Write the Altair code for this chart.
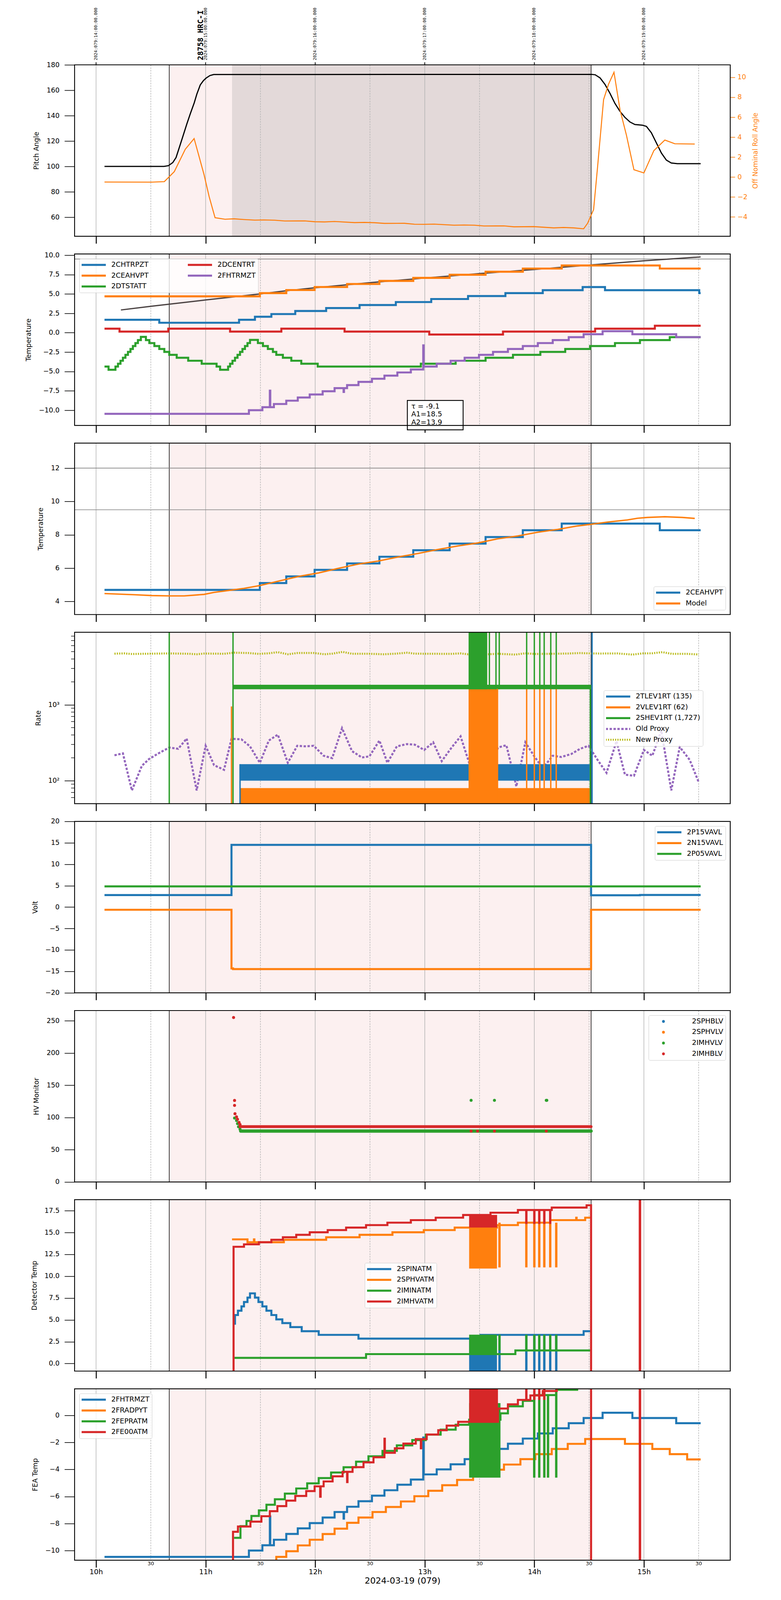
import altair as alt
import pandas as pd

# Layout measured in reference pixels; horizontal sizes use SX, vertical sizes SY, fonts SF.
SX, SY, SF = 1.0, 0.655, 2.0 / 3.0

# ---------------- common style ----------------
FONT = "DejaVu Sans"
MONO = "DejaVu Sans Mono"
BLUE, ORANGE, GREEN, RED, PURPLE, OLIVE = "#1f77b4", "#ff7f0e", "#2ca02c", "#d62728", "#9467bd", "#bcbd22"
PINK, DWELL, GRID, REFLINE, FITCOL = "#fcf0f0", "#e3d9d9", "#b4b4b4", "#808080", "#4a4242"
W, H = 1679 * SX, 670 * SY
LW = 5.2  # main line width

# ---------------- time axis (decimal hours, local) ----------------
X_DOMAIN = [9.804, 15.788]
HOURS = [10, 11, 12, 13, 14, 15]
HALF_HOURS = [10.5, 11.5, 12.5, 13.5, 14.5, 15.5]
HALF_LABEL = "30"
TOP_LABELS = ["2024:079:14:00:00.000", "2024:079:15:00:00.000", "2024:079:16:00:00.000",
              "2024:079:17:00:00.000", "2024:079:18:00:00.000", "2024:079:19:00:00.000"]
OBS_NAME, OBS_NAME_T = "28758 HRC-I", 10.955
OBS_START, OBS_END, DWELL_START = 10.668, 14.518, 11.241
X_TITLE = "2024-03-19 (079)"

# ---------------- panel 1: pitch / roll ----------------
PITCH_T = [10.077, 10.62, 10.66, 10.70, 10.73, 10.753, 10.79, 10.828, 10.86, 10.896, 10.92, 10.951, 10.98, 11.005,
           11.04, 11.074, 14.52, 14.555, 14.6, 14.645, 14.69, 14.736, 14.78, 14.827, 14.873, 14.918, 14.986, 15.023,
           15.068, 15.114, 15.16, 15.205, 15.25, 15.305, 15.518]
PITCH_V = [100.0, 100.0, 100.6, 103.0, 107.0, 113.1, 123.0, 133.3, 141.5, 150.1, 157.0, 164.2, 167.6, 169.6,
           171.6, 172.4, 172.5, 172.2, 169.7, 164.6, 157.6, 149.6, 143.6, 138.6, 135.0, 133.0, 132.5, 131.5,
           126.5, 118.5, 110.5, 105.0, 102.7, 102.2, 102.2]
ROLL_T = [10.077, 10.509, 10.623, 10.714, 10.814, 10.895, 10.986, 11.032, 11.086, 11.177, 11.259, 11.35, 11.45,
          11.532, 11.632, 11.723, 11.905, 11.995, 12.086, 12.177, 12.359, 12.45, 12.541, 12.632, 12.814, 12.905,
          12.995, 13.086, 13.268, 13.359, 13.45, 13.541, 13.723, 13.814, 13.995, 14.177, 14.268, 14.359, 14.45,
          14.486, 14.541, 14.577, 14.632, 14.677, 14.727, 14.782, 14.841, 14.909, 15.0, 15.091, 15.191, 15.282, 15.464]
ROLL_V = [-0.50, -0.51, -0.46, 0.54, 2.78, 3.86, 0.22, -1.96, -4.08, -4.23, -4.19, -4.26, -4.32, -4.30, -4.33,
          -4.41, -4.40, -4.48, -4.50, -4.46, -4.57, -4.55, -4.58, -4.65, -4.64, -4.73, -4.74, -4.72, -4.83, -4.81,
          -4.83, -4.91, -4.90, -4.99, -4.97, -5.10, -5.06, -5.10, -5.19, -4.64, -3.26, 0.98, 7.76, 9.30, 10.51,
          6.74, 4.18, 0.73, 0.41, 2.65, 3.71, 3.34, 3.31]

# ---------------- panel 2: temperatures ----------------
CHT_T = [10.077, 10.577, 11.305, 11.45, 11.6, 11.818, 12.1, 12.405, 12.736, 13.059, 13.395, 13.736, 14.077,
         14.441, 14.645, 15.505, 15.518]
CHT_V = [1.66, 1.28, 1.66, 2.05, 2.40, 2.80, 3.18, 3.57, 3.95, 4.34, 4.72, 5.10, 5.48, 5.88, 5.48, 5.10, 5.10]
CEA_T = [10.077, 11.495, 11.736, 11.995, 12.291, 12.586, 12.895, 13.227, 13.555, 13.895, 14.25, 15.145, 15.518]
CEA_V = [4.69, 5.10, 5.50, 5.89, 6.28, 6.68, 7.07, 7.47, 7.86, 8.27, 8.67, 8.27, 8.27]
DTS_T = [10.077, 10.114, 10.177, 10.2, 10.223, 10.245, 10.268, 10.291, 10.314, 10.336, 10.359, 10.382, 10.409,
         10.455, 10.486, 10.532, 10.577, 10.623, 10.668, 10.736, 10.841, 10.964, 11.1, 11.132, 11.205, 11.223,
         11.245, 11.268, 11.291, 11.314, 11.336, 11.359, 11.382, 11.405, 11.477, 11.523, 11.568, 11.614, 11.645,
         11.705, 11.782, 11.873, 12.023, 12.964, 13.282, 13.555, 13.805, 14.055, 14.282, 14.509, 14.736, 14.964,
         15.236, 15.518]
DTS_V = [-4.37, -4.78, -4.37, -4.0, -3.62, -3.24, -2.86, -2.48, -2.10, -1.72, -1.34, -0.96, -0.54, -0.96, -1.34,
         -1.72, -2.10, -2.48, -2.86, -3.24, -3.62, -4.0, -4.37, -4.78, -4.37, -4.0, -3.62, -3.24, -2.86, -2.48,
         -2.10, -1.72, -1.34, -0.93, -1.34, -1.72, -2.10, -2.48, -2.86, -3.24, -3.62, -4.0, -4.37, -4.0, -3.62,
         -3.24, -2.86, -2.48, -2.10, -1.72, -1.34, -0.96, -0.58, -0.58]
DCE_T = [10.077, 10.214, 10.659, 11.223, 11.691, 12.268, 13.041, 13.714, 14.555, 15.1, 15.518]
DCE_V = [0.52, 0.14, 0.52, 0.14, 0.52, 0.14, -0.24, 0.14, 0.52, 0.90, 0.90]
FHT_T = [10.077, 11.395, 11.518, 11.586, 11.590, 11.623, 11.736, 11.841, 11.95, 12.068, 12.177, 12.259, 12.263,
         12.291, 12.395, 12.518, 12.632, 12.75, 12.873, 12.986, 12.99, 13.109, 13.236, 13.364, 13.495, 13.623,
         13.759, 13.895, 14.032, 14.168, 14.314, 14.45, 14.623, 14.895, 15.295, 15.518]
FHT_V = [-10.47, -10.0, -9.61, -7.48, -9.61, -9.2, -8.77, -8.36, -7.97, -7.56, -7.15, -7.64, -7.15, -6.76, -6.35,
         -5.94, -5.54, -5.13, -4.75, -1.64, -4.37, -4.0, -3.62, -3.24, -2.86, -2.48, -2.10, -1.72, -1.34, -0.96,
         -0.58, -0.20, 0.19, -0.20, -0.58, -0.58]
FIT_T = [10.227, 10.5, 11.0, 11.5, 11.72, 12.0, 12.5, 13.0, 13.5, 14.0, 14.5, 15.0, 15.518]
FIT_V = [2.93, 3.40, 4.22, 5.00, 5.38, 5.80, 6.45, 7.05, 7.62, 8.15, 8.72, 9.27, 9.77]
FIT_TEXT = ["τ = -9.1", "A1=18.5", "A2=13.9"]
FIT_TEXT_V = [-9.53, -10.55, -11.58]
FIT_BOX = {"t0": 12.841, "t1": 13.35, "lo": -12.53, "hi": -8.74}
LIMIT_P2 = [9.5]

# ---------------- panel 3: model ----------------
MODEL_T = [10.077, 10.35, 10.509, 10.668, 10.805, 10.986, 11.077, 11.214, 11.35, 11.495, 11.668, 11.85, 12.032,
           12.214, 12.395, 12.577, 12.759, 12.941, 13.123, 13.305, 13.486, 13.668, 13.85, 14.032, 14.214, 14.395,
           14.532, 14.668, 14.85, 14.941, 15.032, 15.191, 15.35, 15.464]
MODEL_V = [4.47, 4.40, 4.35, 4.33, 4.33, 4.42, 4.54, 4.66, 4.78, 4.95, 5.22, 5.50, 5.71, 5.99, 6.24, 6.42, 6.67,
           6.88, 7.12, 7.33, 7.51, 7.76, 7.93, 8.15, 8.32, 8.53, 8.64, 8.76, 8.89, 8.99, 9.04, 9.08, 9.04, 8.98]
LIMIT_P3 = [12.0, 9.5]

# ---------------- panel 4: rates ----------------
RATE_SERIES = ["2TLEV1RT (135)", "2VLEV1RT (62)", "2SHEV1RT (1,727)", "Old Proxy", "New Proxy"]
RATE_BAND_T0 = [11.314, 11.314, 13.40, 11.25, 13.40]
RATE_BAND_T1 = [14.509, 14.509, 13.67, 14.518, 13.57]
RATE_BAND_LO = [100, 40, 40, 1600, 1600]
RATE_BAND_HI = [165, 80, 1620, 1830, 20000]
RATE_BAND_S = ["2TLEV1RT (135)", "2VLEV1RT (62)", "2VLEV1RT (62)", "2SHEV1RT (1,727)", "2SHEV1RT (1,727)"]
RATE_SPIKE_T = [11.314, 11.236, 13.66, 13.93, 14.0, 14.05, 14.09, 14.15, 14.2,
                10.668, 11.25, 13.59, 13.65, 13.68, 13.93, 14.0, 14.05, 14.09, 14.15, 14.2, 14.511, 14.527]
RATE_SPIKE_LO = [40, 40, 40, 40, 40, 40, 40, 40, 40,
                 40, 40, 1600, 1600, 1600, 1600, 1600, 1600, 1600, 1600, 1600, 40, 40]
RATE_SPIKE_HI = [165, 950, 1620, 1620, 1620, 1620, 1620, 1620, 1620,
                 20000, 20000, 20000, 20000, 20000, 20000, 20000, 20000, 20000, 20000, 20000, 1700, 20000]
RATE_SPIKE_S = ["2TLEV1RT (135)"] + ["2VLEV1RT (62)"] * 8 + ["2SHEV1RT (1,727)"] * 12 + ["2TLEV1RT (135)"]
OLD_T = [10.168, 10.245, 10.327, 10.418, 10.486, 10.577, 10.668, 10.75, 10.827, 10.918, 11.0, 11.077, 11.168,
         11.236, 11.327, 11.405, 11.495, 11.577, 11.659, 11.75, 11.836, 11.918, 11.986, 12.077, 12.155, 12.245,
         12.336, 12.427, 12.495, 12.586, 12.659, 12.745, 12.836, 12.909, 12.995, 13.077, 13.155, 13.245, 13.327,
         13.405, 13.486, 13.577, 13.668, 13.745, 13.836, 13.918, 14.0, 14.077, 14.168, 14.245, 14.336, 14.418,
         14.495, 14.577, 14.659, 14.75, 14.827, 14.909, 15.0, 15.077, 15.159, 15.25, 15.327, 15.418, 15.5]
OLD_V = [216, 229, 74.5, 157, 194, 232, 273, 263, 359, 74.5, 288, 160, 139, 356, 350, 283, 172, 338, 404, 172,
         288, 283, 288, 213, 198, 491, 245, 202, 209, 338, 172, 283, 303, 298, 254, 320, 181, 273, 383, 172, 152,
         104, 273, 293, 84, 320, 209, 146, 213, 205, 224, 263, 288, 188, 127, 332, 120, 116, 254, 213, 457, 74.5,
         278, 188, 95.5]
NEW_T = [10.168, 10.259, 10.327, 10.441, 10.668, 10.85, 10.918, 10.986, 11.168, 11.259, 11.395, 11.486, 11.577,
         11.659, 11.75, 11.841, 11.986, 12.086, 12.155, 12.25, 12.336, 12.495, 12.623, 12.736, 12.841, 12.909,
         13.077, 13.236, 13.327, 13.395, 13.464, 13.577, 13.668, 13.827, 13.918, 14.009, 14.077, 14.168, 14.305,
         14.418, 14.509, 14.6, 14.759, 14.895, 14.986, 15.077, 15.168, 15.259, 15.395, 15.5]
NEW_V = [4700, 4740, 4655, 4686, 4737, 4686, 4617, 4720, 4686, 4842, 4790, 4670, 4755, 4920, 4617, 4800, 4800,
         4617, 4700, 4962, 4686, 4686, 4617, 4700, 4842, 4700, 4686, 4670, 4737, 4617, 4755, 4617, 4686, 4570,
         4755, 4655, 4670, 4686, 4720, 4790, 4737, 4720, 4737, 4570, 4737, 4755, 4920, 4670, 4670, 4590]
RATE_MINOR = [60, 70, 80, 90, 200, 300, 400, 500, 600, 700, 800, 900, 2000, 3000, 4000, 5000, 6000, 7000, 8000]

# ---------------- panel 5: voltages ----------------
P15_T = [10.077, 11.236, 14.518, 14.964, 15.518]
P15_V = [2.81, 14.52, 2.76, 2.84, 2.84]
N15_T = [10.077, 11.236, 11.25, 14.518, 15.518]
N15_V = [-0.62, -14.3, -14.46, -0.62, -0.62]
P05_T = [10.077, 15.518]
P05_V = [4.84, 4.84]

# ---------------- panel 6: HV monitors ----------------
HV_SERIES = ["2SPHBLV", "2SPHVLV", "2IMHVLV", "2IMHBLV"]
HVG_T = [11.264, 11.282, 11.291, 11.3, 11.314, 13.423, 13.636, 14.109, 14.114]
HVG_V = [99.1, 95.3, 90.5, 85.6, 81.8, 126.6, 126.6, 126.6, 126.6]
HVR_T = [11.255, 11.264, 11.264, 11.268, 11.282, 11.291, 11.305, 11.314, 13.423, 13.482, 13.636, 14.109]
HVR_V = [255.0, 126.4, 118.7, 105.8, 101.0, 97.2, 92.4, 89.0, 78.9, 78.9, 78.9, 78.9]
HVG_STEADY = ([11.32, 14.518], [78.9, 78.9])
HVR_STEADY = ([11.314, 14.518], [85.8, 85.8])

# ---------------- panel 7: detector temps ----------------
DET_SERIES = ["2SPINATM", "2SPHVATM", "2IMINATM", "2IMHVATM"]
SPIN_T = [11.25, 11.268, 11.295, 11.327, 11.35, 11.382, 11.405, 11.45, 11.482, 11.518, 11.555, 11.6, 11.645,
          11.7, 11.773, 11.877, 12.032, 12.395, 13.509, 14.45, 14.509]
SPIN_V = [4.56, 5.55, 6.05, 6.54, 7.04, 7.54, 8.03, 7.54, 7.04, 6.54, 6.05, 5.55, 5.05, 4.63, 4.17, 3.70, 3.28,
          2.85, 3.28, 3.70, 3.70]
SPHV_T = [11.241, 11.382, 11.441, 11.445, 11.714, 12.1, 12.405, 12.705, 12.991, 13.273, 13.659, 13.85, 14.145,
          14.382, 14.386, 14.464, 14.509]
SPHV_V = [14.21, 13.88, 14.21, 13.88, 14.16, 14.45, 14.73, 15.02, 15.27, 15.56, 15.84, 16.12, 16.41, 16.69,
          16.41, 16.69, 16.69]
IMIN_T = [11.25, 12.464, 13.827, 14.509]
IMIN_V = [0.65, 1.08, 1.50, 1.50]
IMHV_T = [11.25, 11.255, 11.35, 11.486, 11.6, 11.705, 11.827, 11.95, 12.114, 12.282, 12.464, 12.659, 12.873,
          13.1, 13.35, 13.6, 13.85, 14.159, 14.477, 14.518, 14.962, 14.966, 15.518]
IMHV_V = [-5, 13.36, 13.64, 13.88, 14.16, 14.45, 14.73, 15.02, 15.27, 15.56, 15.84, 16.12, 16.41, 16.69, 17.0,
          17.26, 17.57, 17.85, 18.11, -5, 30, -5, -5]
DET_BLOCK_T0 = [13.405, 13.405, 13.405, 13.405]
DET_BLOCK_T1 = [13.659, 13.659, 13.659, 13.66]
DET_BLOCK_LO = [-2.0, 10.87, 1.08, 15.56]
DET_BLOCK_HI = [2.85, 15.56, 3.30, 17.0]
DET_SPIKE_TIMES = [13.682, 13.927, 14.0, 14.045, 14.091, 14.145, 14.2]
DET_SPIKE_RANGE = {"2SPINATM": (-2.0, 3.28), "2SPHVATM": (11.0, 16.12), "2IMINATM": (1.5, 3.3)}
DET_RED_SPIKES = ([13.927, 14.0, 14.045, 14.091, 14.145], 15.98, 17.57)

# ---------------- panel 8: FEA temps ----------------
FEA_SERIES = ["2FHTRMZT", "2FRADPYT", "2FEPRATM", "2FE00ATM"]
FRAD_T = [11.638, 11.645, 11.736, 11.841, 11.95, 12.068, 12.177, 12.291, 12.395, 12.523, 12.645, 12.782, 12.905,
          13.032, 13.159, 13.295, 13.441, 13.586, 13.723, 13.873, 14.009, 14.159, 14.305, 14.464, 14.827, 15.077,
          15.236, 15.395, 15.518]
FRAD_V = [-10.9, -10.47, -10.05, -9.62, -9.2, -8.78, -8.38, -7.95, -7.56, -7.15, -6.78, -6.37, -5.98, -5.58,
          -5.17, -4.78, -4.39, -4.02, -3.64, -3.24, -2.87, -2.49, -2.11, -1.75, -2.11, -2.49, -2.87, -3.26, -3.26]
FEPR_T = [11.259, 11.318, 11.373, 11.418, 11.486, 11.555, 11.632, 11.723, 11.827, 11.927, 12.032, 12.145, 12.259,
          12.373, 12.486, 12.614, 12.745, 12.886, 13.009, 13.145, 13.282, 13.405, 13.691, 13.759, 13.895, 13.999,
          14.2, 14.391, 14.518]
FEPR_V = [-9.06, -8.19, -7.81, -7.44, -7.03, -6.61, -6.21, -5.79, -5.41, -5.03, -4.64, -4.23, -3.84, -3.43,
          -3.03, -2.63, -2.22, -1.83, -1.43, -1.06, -0.70, -0.32, 0.15, 0.67, 1.07, 1.50, 1.89, 2.5, 2.5]
FE00_T = [11.245, 11.25, 11.295, 11.409, 11.509, 11.586, 11.655, 11.736, 11.818, 11.918, 11.995, 12.045, 12.05,
          12.077, 12.159, 12.25, 12.291, 12.295, 12.341, 12.441, 12.532, 12.632, 12.636, 12.727, 12.805, 12.918,
          12.964, 12.968, 13.018, 13.123, 13.2, 13.305, 13.668, 13.759, 13.85, 13.964, 14.077, 14.205, 14.518,
          14.962, 14.966, 15.518]
FE00_V = [-11.5, -8.61, -8.22, -7.86, -7.46, -7.09, -6.71, -6.31, -5.96, -5.6, -5.25, -6.02, -5.25, -4.89, -4.51,
          -4.18, -4.94, -4.18, -3.83, -3.48, -3.1, -1.73, -2.77, -2.44, -2.09, -1.76, -2.44, -1.76, -1.42, -1.10,
          -0.76, -0.48, 0.50, 0.81, 1.14, 1.47, 1.80, 2.5, -20, 30, -20, -20]
FEA_BLOCK_T0 = [13.405, 13.405]
FEA_BLOCK_T1 = [13.691, 13.668]
FEA_BLOCK_LO = [-4.61, -0.48]
FEA_BLOCK_HI = [0.9, 3.0]
FEA_BLOCK_S = ["2FEPRATM", "2FE00ATM"]
FEA_SPIKE_T = [13.999, 14.045, 14.091, 14.125, 14.2, 13.927, 14.0, 14.045, 14.091]
FEA_SPIKE_LO = [-4.61, -4.61, -4.61, -4.61, -4.61, 1.14, 1.14, 1.14, 1.14]
FEA_SPIKE_HI = [1.5, 1.5, 1.5, 1.5, 1.89, 3.0, 3.0, 3.0, 3.0]
FEA_SPIKE_S = ["2FEPRATM"] * 5 + ["2FE00ATM"] * 4


# ================= helpers =================
def df_series(t, v, name):
    return pd.DataFrame({"t": t, "v": v, "s": [name] * len(t)})


XAXIS = alt.Axis(values=HOURS, labels=False, tickSize=28 * SY, tickWidth=2.5 * SX, tickColor="black",
                 title=None, domain=False, grid=False)
XAXIS_BOTTOM = alt.Axis(
    values=HOURS, domain=False, grid=False,
    labelExpr="format(datum.value, 'd') + 'h'",
    tickSize=28 * SY, tickWidth=2.5 * SX, tickColor="black",
    labelFontSize=27 * SF, labelPadding=5 * SY, labelFlush=False, labelOverlap=False,
    title=X_TITLE, titleFontSize=33 * SF, titlePadding=4 * SY,
)
XSCALE = alt.Scale(domain=X_DOMAIN, nice=False, zero=False)


def X(field, bottom=False):
    return alt.X(f"{field}:Q", scale=XSCALE, axis=XAXIS_BOTTOM if bottom else XAXIS)


def yaxis(values, title, **kw):
    d = dict(values=values, title=title, tickSize=26 * SX, tickWidth=2.5 * SY, labelFontSize=26 * SF,
             labelPadding=13 * SX, titleFontSize=26 * SF, titlePadding=16 * SX, labelOverlap=False,
             labelFlush=False)
    d.update(kw)
    return alt.Axis(**d)


def legend(**kw):
    d = dict(labelFontSize=27 * SF, symbolStrokeWidth=8 * SY, labelOffset=11 * SX, rowPadding=11.7 * SY,
             padding=6, clipHeight=30 * SY, symbolOffset=-4 * SX, offset=12, cornerRadius=5 * SY,
             columnPadding=100, symbolSize=(63 * SX) ** 2, symbolType="stroke")
    d.update(kw)
    return alt.Legend(title=None, labelFont=FONT, direction="vertical", fillColor="rgba(255,255,255,0.8)",
                      strokeColor="#cccccc", labelLimit=500, **d)


def background(bottom=False, dwell=False):
    out = [alt.Chart(pd.DataFrame({"t0": [OBS_START], "t1": [OBS_END]})).mark_rect(color=PINK)
           .encode(x=X("t0", bottom), x2=alt.X2("t1"))]
    if dwell:
        out.append(alt.Chart(pd.DataFrame({"t0": [DWELL_START], "t1": [OBS_END]})).mark_rect(color=DWELL)
                   .encode(x=X("t0", bottom), x2=alt.X2("t1")))
    out.append(alt.Chart(pd.DataFrame({"t": HOURS})).mark_rule(color=GRID, strokeWidth=1.5 * SX)
               .encode(x=X("t", bottom)))
    out.append(alt.Chart(pd.DataFrame({"t": HALF_HOURS}))
               .mark_rule(color=GRID, strokeWidth=1.5 * SX, strokeDash=[6 * SY, 4 * SY])
               .encode(x=X("t", bottom)))
    out.append(alt.Chart(pd.DataFrame({"t": [OBS_START, OBS_END]})).mark_rule(color="black", strokeWidth=1.5 * SX)
               .encode(x=X("t", bottom)))
    return out


def frame():
    return alt.Chart(pd.DataFrame({"k": [0]})).mark_rect(filled=False, stroke="black", strokeWidth=2.2).encode(
        x=alt.value(0), x2=alt.value(W), y=alt.value(0), y2=alt.value(H))


def steps(df, Y, C, width=LW, interp="step-after", bottom=False):
    return alt.Chart(df).mark_line(interpolate=interp, strokeWidth=width, clip=True).encode(
        x=X("t", bottom), y=Y, color=C)


# ================= panel 1 =================
Y1 = alt.Y("v:Q", scale=alt.Scale(domain=[45, 180], nice=False, zero=False),
           axis=yaxis([60, 80, 100, 120, 140, 160, 180], "Pitch Angle"))
Y1R = alt.Y("v:Q", scale=alt.Scale(domain=[-5.94, 11.25], nice=False, zero=False),
            axis=yaxis([-4, -2, 0, 2, 4, 6, 8, 10], "Off Nominal Roll Angle", orient="right", tickSize=12 * SX,
                       labelPadding=6 * SX, labelColor=ORANGE, tickColor=ORANGE, titleColor=ORANGE,
                       titleAngle=270, titleBaseline="top", titlePadding=12 * SX))
p1 = alt.layer(
    *background(dwell=True),
    alt.Chart(pd.DataFrame({"t": PITCH_T, "v": PITCH_V})).mark_line(color="black", strokeWidth=3.0, clip=True)
    .encode(x=X("t"), y=Y1),
    alt.Chart(pd.DataFrame({"t": ROLL_T, "v": ROLL_V})).mark_line(color=ORANGE, strokeWidth=2.6, clip=True)
    .encode(x=X("t"), y=Y1R),
    alt.Chart(pd.DataFrame({"t": HOURS})).mark_rule(color="black", strokeWidth=2 * SX)
    .encode(x=X("t"), y=alt.value(-10 * SY), y2=alt.value(0)),
    alt.Chart(pd.DataFrame({"t": HOURS, "label": TOP_LABELS}))
    .mark_text(angle=270, align="left", baseline="middle", font=MONO, fontSize=16 * SF, color="black")
    .encode(x=X("t"), y=alt.value(-18 * SY), text="label:N"),
    alt.Chart(pd.DataFrame({"t": [OBS_NAME_T], "label": [OBS_NAME]}))
    .mark_text(angle=270, align="left", baseline="middle", font=MONO, fontSize=29 * SF, fontWeight="bold",
               color="black")
    .encode(x=X("t"), y=alt.value(-18 * SY), text="label:N"),
    frame(),
).resolve_scale(y="independent").properties(width=W, height=H)

# ================= panel 2 =================
P2_DOMAIN = ["2CHTRPZT", "2CEAHVPT", "2DTSTATT", "2DCENTRT", "2FHTRMZT"]
P2_RANGE = [BLUE, ORANGE, GREEN, RED, PURPLE]
C2 = alt.Color("s:N", scale=alt.Scale(domain=P2_DOMAIN, range=P2_RANGE),
               legend=legend(orient="top-left", columns=2))
Y2 = alt.Y("v:Q", scale=alt.Scale(domain=[-11.96, 10.15], nice=False, zero=False),
           axis=yaxis([-10, -7.5, -5, -2.5, 0, 2.5, 5, 7.5, 10], "Temperature", format=".1f"))
box_df = pd.DataFrame({"t0": [FIT_BOX["t0"]], "t1": [FIT_BOX["t1"]], "v": [FIT_BOX["hi"]], "lo": [FIT_BOX["lo"]]})
p2 = alt.layer(
    *background(),
    alt.Chart(pd.DataFrame({"v": LIMIT_P2})).mark_rule(color=REFLINE, strokeWidth=2.5 * SY).encode(y=Y2),
    alt.Chart(pd.DataFrame({"t": FIT_T, "v": FIT_V})).mark_line(color=FITCOL, strokeWidth=3.2, clip=True)
    .encode(x=X("t"), y=Y2),
    steps(df_series(CHT_T, CHT_V, "2CHTRPZT"), Y2, C2),
    steps(df_series(CEA_T, CEA_V, "2CEAHVPT"), Y2, C2),
    steps(df_series(DTS_T, DTS_V, "2DTSTATT"), Y2, C2),
    steps(df_series(DCE_T, DCE_V, "2DCENTRT"), Y2, C2),
    steps(df_series(FHT_T, FHT_V, "2FHTRMZT"), Y2, C2),
    alt.Chart(box_df).mark_rect(fill="white", stroke="black", strokeWidth=2.2)
    .encode(x=X("t0"), x2=alt.X2("t1"), y=Y2, y2=alt.Y2("lo")),
    alt.Chart(pd.DataFrame({"t": [FIT_BOX["t0"] + 0.036] * 3, "v": FIT_TEXT_V, "label": FIT_TEXT}))
    .mark_text(align="left", baseline="middle", font=FONT, fontSize=27 * SF, color="black")
    .encode(x=X("t"), y=Y2, text="label:N"),
    frame(),
).properties(width=W, height=H)

# ================= panel 3 =================
C3 = alt.Color("s:N", scale=alt.Scale(domain=["2CEAHVPT", "Model"], range=[BLUE, ORANGE]),
               legend=legend(orient="bottom-right"))
Y3 = alt.Y("v:Q", scale=alt.Scale(domain=[3.21, 13.5], nice=False, zero=False),
           axis=yaxis([4, 6, 8, 10, 12], "Temperature"))
p3 = alt.layer(
    *background(),
    alt.Chart(pd.DataFrame({"v": LIMIT_P3})).mark_rule(color=REFLINE, strokeWidth=2.5 * SY).encode(y=Y3),
    steps(df_series(CEA_T, CEA_V, "2CEAHVPT"), Y3, C3),
    steps(df_series(MODEL_T, MODEL_V, "Model"), Y3, C3, width=3.6, interp="linear"),
    frame(),
).properties(width=W, height=H)

# ================= panel 4 =================
R_RANGE = [BLUE, ORANGE, GREEN, PURPLE, OLIVE]
Y4S = alt.Scale(type="log", domain=[49.8, 8995], nice=False)
Y4 = alt.Y("v:Q", scale=Y4S, axis=yaxis([100, 1000], "Rate", labelExpr="datum.value == 100 ? '10²' : '10³'"))
L4 = legend(orient="none", legendX=1355 * SX, legendY=227 * SY)
C4 = alt.Color("s:N", scale=alt.Scale(domain=RATE_SERIES, range=R_RANGE), legend=L4)
D4 = alt.StrokeDash("s:N", scale=alt.Scale(domain=RATE_SERIES,
                                           range=[[1, 0], [1, 0], [1, 0], [6, 4], [3, 3]]), legend=L4)
SW4 = alt.StrokeWidth("s:N", scale=alt.Scale(domain=RATE_SERIES, range=[8 * SY, 8 * SY, 8 * SY, 1.6, 2.4]),
                      legend=L4)
rate_bands = pd.DataFrame({"t0": RATE_BAND_T0, "t1": RATE_BAND_T1, "v": RATE_BAND_LO, "hi": RATE_BAND_HI,
                           "s": RATE_BAND_S})
rate_spikes = pd.DataFrame({"t": RATE_SPIKE_T, "v": RATE_SPIKE_LO, "hi": RATE_SPIKE_HI, "s": RATE_SPIKE_S})
proxies = pd.concat([df_series(OLD_T, OLD_V, "Old Proxy"), df_series(NEW_T, NEW_V, "New Proxy")])
p4 = alt.layer(
    *background(),
    alt.Chart(proxies).mark_line(clip=True).encode(x=X("t"), y=Y4, color=C4, strokeDash=D4, strokeWidth=SW4),
    alt.Chart(rate_bands).mark_rect(clip=True)
    .encode(x=X("t0"), x2=alt.X2("t1"), y=Y4, y2=alt.Y2("hi"), color=C4),
    alt.Chart(rate_spikes).mark_rule(strokeWidth=3.5 * SX, clip=True)
    .encode(x=X("t"), y=Y4, y2=alt.Y2("hi"), color=C4),
    alt.Chart(pd.DataFrame({"v": RATE_MINOR})).mark_rule(color="black", strokeWidth=2 * SY)
    .encode(y=Y4, x=alt.value(-9 * SX), x2=alt.value(0)),
    frame(),
).properties(width=W, height=H)

# ================= panel 5 =================
C5 = alt.Color("s:N", scale=alt.Scale(domain=["2P15VAVL", "2N15VAVL", "2P05VAVL"], range=[BLUE, ORANGE, GREEN]),
               legend=legend(orient="top-right"))
Y5 = alt.Y("v:Q", scale=alt.Scale(domain=[-20, 20], nice=False, zero=False),
           axis=yaxis([-20, -15, -10, -5, 0, 5, 10, 15, 20], "Volt"))
p5 = alt.layer(
    *background(),
    steps(df_series(P15_T, P15_V, "2P15VAVL"), Y5, C5),
    steps(df_series(N15_T, N15_V, "2N15VAVL"), Y5, C5),
    steps(df_series(P05_T, P05_V, "2P05VAVL"), Y5, C5),
    frame(),
).properties(width=W, height=H)

# ================= panel 6 =================
C6 = alt.Color("s:N", scale=alt.Scale(domain=HV_SERIES, range=[BLUE, ORANGE, GREEN, RED]),
               legend=legend(orient="top-right", symbolType="circle", symbolSize=80 * SX * SY,
                             symbolStrokeWidth=0, symbolOffset=23 * SX, labelOffset=64 * SX))
Y6 = alt.Y("v:Q", scale=alt.Scale(domain=[0, 265.8], nice=False, zero=False),
           axis=yaxis([0, 50, 100, 150, 200, 250], "HV Monitor"))
DOT = 90 * SX * SY
p6 = alt.layer(
    *background(),
    alt.Chart(df_series(HVG_T, HVG_V, "2IMHVLV")).mark_circle(size=DOT, opacity=1).encode(x=X("t"), y=Y6, color=C6),
    alt.Chart(df_series(HVG_STEADY[0], HVG_STEADY[1], "2IMHVLV")).mark_line(strokeWidth=13 * SY, strokeCap="round")
    .encode(x=X("t"), y=Y6, color=C6),
    alt.Chart(df_series(HVR_STEADY[0], HVR_STEADY[1], "2IMHBLV")).mark_line(strokeWidth=11 * SY, strokeCap="round")
    .encode(x=X("t"), y=Y6, color=C6),
    alt.Chart(df_series(HVR_T, HVR_V, "2IMHBLV")).mark_circle(size=DOT, opacity=1).encode(x=X("t"), y=Y6, color=C6),
    frame(),
).properties(width=W, height=H)

# ================= panel 7 =================
C7 = alt.Color("s:N", scale=alt.Scale(domain=DET_SERIES, range=[BLUE, ORANGE, GREEN, RED]),
               legend=legend(orient="none", legendX=743 * SX, legendY=247 * SY))
Y7 = alt.Y("v:Q", scale=alt.Scale(domain=[-0.866, 18.75], nice=False, zero=False),
           axis=yaxis([0, 2.5, 5, 7.5, 10, 12.5, 15, 17.5], "Detector Temp", format=".1f"))


def det_extras(idx):
    name = DET_SERIES[idx]
    blk = pd.DataFrame({"t0": [DET_BLOCK_T0[idx]], "t1": [DET_BLOCK_T1[idx]], "v": [DET_BLOCK_LO[idx]],
                        "hi": [DET_BLOCK_HI[idx]], "s": [name]})
    if name in DET_SPIKE_RANGE:
        lo, hi = DET_SPIKE_RANGE[name]
        ts = DET_SPIKE_TIMES
    else:
        ts, lo, hi = DET_RED_SPIKES
    sp = pd.DataFrame({"t": ts, "v": [lo] * len(ts), "hi": [hi] * len(ts), "s": [name] * len(ts)})
    return [
        alt.Chart(blk).mark_rect(clip=True).encode(x=X("t0"), x2=alt.X2("t1"), y=Y7, y2=alt.Y2("hi"), color=C7),
        alt.Chart(sp).mark_rule(strokeWidth=6 * SX, clip=True).encode(x=X("t"), y=Y7, y2=alt.Y2("hi"), color=C7),
    ]


p7 = alt.layer(
    *background(),
    steps(df_series(SPIN_T, SPIN_V, "2SPINATM"), Y7, C7), *det_extras(0),
    steps(df_series(SPHV_T, SPHV_V, "2SPHVATM"), Y7, C7), *det_extras(1),
    steps(df_series(IMIN_T, IMIN_V, "2IMINATM"), Y7, C7), *det_extras(2),
    steps(df_series(IMHV_T, IMHV_V, "2IMHVATM"), Y7, C7), *det_extras(3),
    frame(),
).properties(width=W, height=H)

# ================= panel 8 =================
C8 = alt.Color("s:N", scale=alt.Scale(domain=FEA_SERIES, range=[BLUE, ORANGE, GREEN, RED]),
               legend=legend(orient="top-left"))
Y8 = alt.Y("v:Q", scale=alt.Scale(domain=[-10.716, 1.96], nice=False, zero=False),
           axis=yaxis([-10, -8, -6, -4, -2, 0], "FEA Temp"))
fea_blocks = pd.DataFrame({"t0": FEA_BLOCK_T0, "t1": FEA_BLOCK_T1, "v": FEA_BLOCK_LO, "hi": FEA_BLOCK_HI,
                           "s": FEA_BLOCK_S})
fea_spikes = pd.DataFrame({"t": FEA_SPIKE_T, "v": FEA_SPIKE_LO, "hi": FEA_SPIKE_HI, "s": FEA_SPIKE_S})


def fea_extras(name):
    return [
        alt.Chart(fea_blocks[fea_blocks.s == name]).mark_rect(clip=True)
        .encode(x=X("t0", True), x2=alt.X2("t1"), y=Y8, y2=alt.Y2("hi"), color=C8),
        alt.Chart(fea_spikes[fea_spikes.s == name]).mark_rule(strokeWidth=6 * SX, clip=True)
        .encode(x=X("t", True), y=Y8, y2=alt.Y2("hi"), color=C8),
    ]


p8 = alt.layer(
    *background(bottom=True),
    steps(df_series(FHT_T, FHT_V, "2FHTRMZT"), Y8, C8, bottom=True),
    steps(df_series(FRAD_T, FRAD_V, "2FRADPYT"), Y8, C8, bottom=True),
    steps(df_series(FEPR_T, FEPR_V, "2FEPRATM"), Y8, C8, bottom=True), *fea_extras("2FEPRATM"),
    steps(df_series(FE00_T, FE00_V, "2FE00ATM"), Y8, C8, bottom=True), *fea_extras("2FE00ATM"),
    alt.Chart(pd.DataFrame({"t": HALF_HOURS, "label": [HALF_LABEL] * len(HALF_HOURS)}))
    .mark_text(align="center", baseline="top", font=FONT, fontSize=19.5 * SF, color="black")
    .encode(x=X("t", True), y=alt.value(H + 4 * SY), text="label:N"),
    frame(),
).properties(width=W, height=H)

chart = alt.vconcat(p1, p2, p3, p4, p5, p6, p7, p8, spacing=69 * SY, bounds="flush").resolve_scale(
    color="independent", strokeDash="independent", strokeWidth="independent", x="independent", y="independent",
).resolve_legend(color="independent", strokeDash="independent", strokeWidth="independent").properties(
    padding={"left": 56, "top": 10, "right": 4, "bottom": 0},
).configure_view(stroke="transparent").configure_axis(
    labelFont=FONT, titleFont=FONT, labelColor="black", titleColor="black", titleFontWeight="normal",
    domain=False, grid=False, tickColor="black",
)

chart.save("out.html", embed_options={"renderer": "svg", "actions": False})
